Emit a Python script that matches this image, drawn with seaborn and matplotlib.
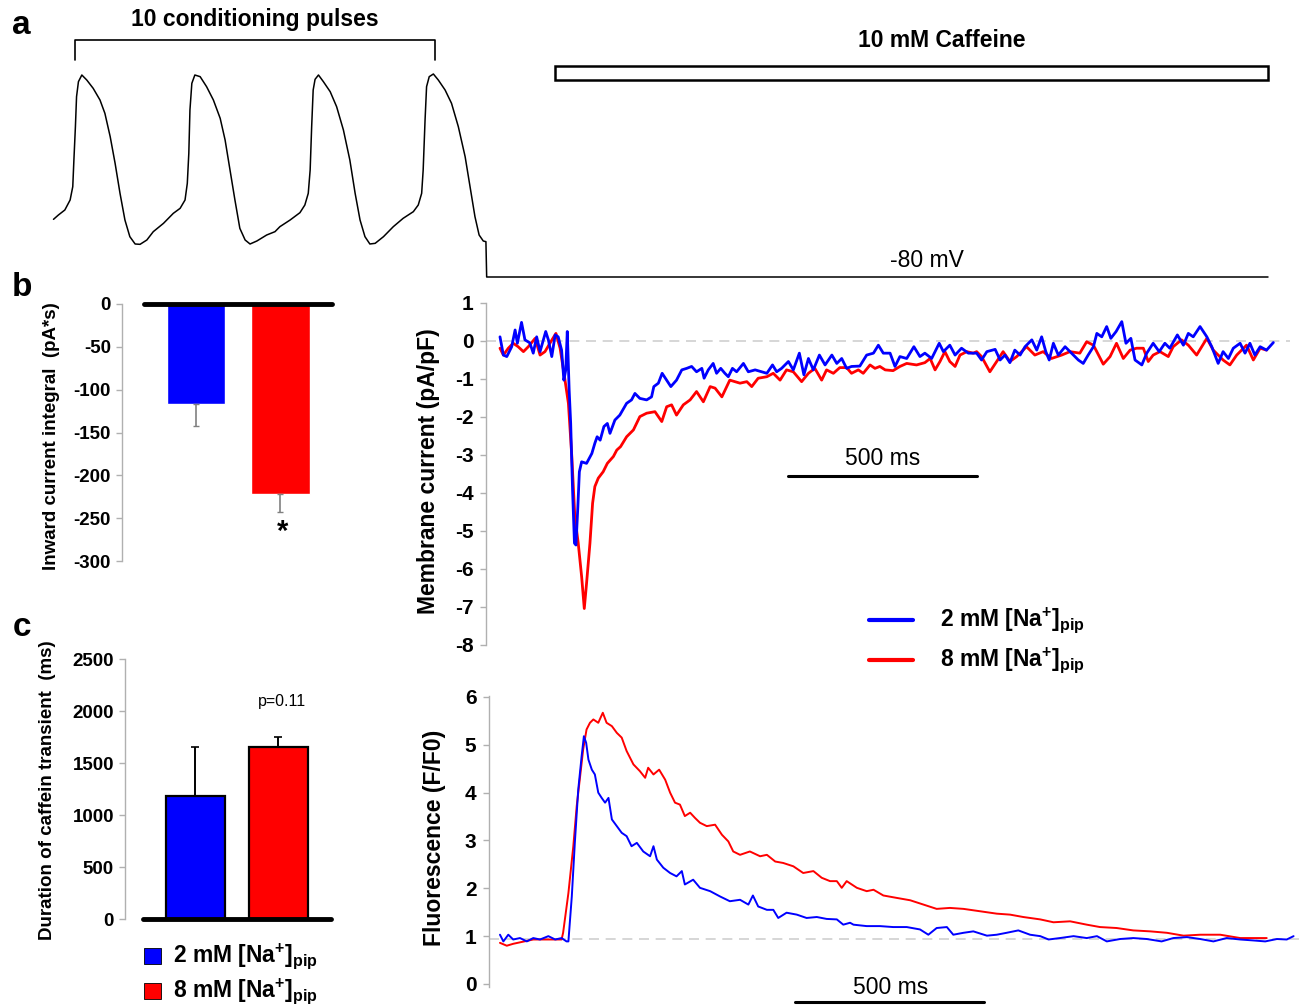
import numpy as np
import pandas as pd
import matplotlib
matplotlib.use('Agg')
import matplotlib.pyplot as plt
import seaborn as sns
from matplotlib.patches import Rectangle
from matplotlib.lines import Line2D

sns.set_theme(style='white')
plt.rcParams['font.family'] = ['Liberation Sans', 'DejaVu Sans']
plt.rcParams['mathtext.fontset'] = 'custom'
plt.rcParams['mathtext.rm'] = 'Liberation Sans:bold'
plt.rcParams['mathtext.bf'] = 'Liberation Sans:bold'
plt.rcParams['mathtext.it'] = 'Liberation Sans:bold'
for k in ['text.color', 'axes.labelcolor', 'xtick.color', 'ytick.color']:
    plt.rcParams[k] = 'black'

BLUE = '#0000FF'
RED = '#FF0000'

# ---------------- data ----------------
# panel a: conditioning action potentials then clamp to -80 mV (ms, mV)
ap_t = [-4, 9, 26, 40, 47, 50, 54, 57, 62, 71, 84, 101, 119, 132, 146, 159, 172, 185, 198, 212,
        225, 243, 260, 287, 313, 331, 344, 350, 354, 357, 362, 370, 384, 401, 419, 437, 450,
        463, 476, 489, 503, 516, 534, 560, 582, 595, 622, 648, 661, 670, 675, 679, 683, 688,
        697, 710, 728, 745, 763, 780, 794, 807, 820, 833, 847, 869, 895, 921, 948, 961, 970,
        974, 979, 983, 990, 1001, 1014, 1032, 1049, 1067, 1085, 1098, 1111, 1122, 1133, 1140,
        1142, 3209]
ap_v = [-45.4, -42.8, -39.8, -33.8, -25.8, -9.8, 10.2, 28.2, 37.2, 41.2, 38.2, 33.2, 26.2, 18.2,
        4.2, -11.8, -29.8, -45.8, -55.8, -60.2, -60.4, -57.8, -52.8, -47.8, -41.8, -38.8, -33.8,
        -23.8, -5.8, 20.2, 36.2, 41.2, 40.2, 34.2, 26.2, 15.2, 2.2, -15.8, -33.8, -50.8, -57.8,
        -60.2, -58.4, -54.8, -52.8, -49.8, -45.8, -41.4, -36.8, -29.8, -15.8, 10.2, 32.2, 38.6,
        41.2, 37.2, 31.2, 22.2, 8.2, -9.8, -29.8, -45.8, -55.8, -60.2, -59.8, -55.8, -49.8,
        -44.8, -40.8, -36.8, -29.8, -15.8, 14.2, 34.2, 40.2, 41.8, 38.2, 32.2, 24.2, 10.2, -7.8,
        -25.8, -43.8, -54.8, -58.4, -58.8, -80.0, -80.0]
pulse_bracket = (53, 1005)      # ms, first to last shown pulse
caffeine_on = (1323, 3209)      # ms

# panel b: inward current integral (pA*s)
groups = ['2 mM', '8 mM']
b_mean = [-117, -222]
b_sem = [25, 21]

# panel c: duration of caffeine transient (ms)
c_mean = [1180, 1650]
c_sem = [470, 100]

# membrane current (pA/pF), time in ms
im_blue_t = [0, 9, 18, 31, 40, 46, 57, 66, 79, 88, 97, 106, 121, 128, 137, 146, 154, 163, 169,
             174, 178, 183, 187, 192, 197, 201, 206, 210, 216, 229, 243, 251, 257, 265, 275,
             284, 291, 304, 317, 335, 348, 357, 370, 388, 401, 407, 419, 429, 441, 452, 467,
             481, 494, 507, 520, 534, 540, 551, 564, 573, 584, 595, 604, 615, 626, 644, 657,
             675, 692, 706, 721, 732, 745, 763, 776, 792, 804, 816, 829, 845, 860, 878, 891,
             904, 917, 930, 952, 970, 988, 1001, 1014, 1032, 1045, 1058, 1076, 1095, 1111,
             1124, 1142, 1162, 1173, 1190, 1204, 1221, 1239, 1261, 1274, 1288, 1310, 1323,
             1336, 1349, 1362, 1376, 1389, 1407, 1420, 1433, 1444, 1453, 1464, 1477, 1495,
             1512, 1530, 1543, 1556, 1570, 1579, 1592, 1605, 1616, 1630, 1645, 1656, 1669,
             1680, 1698, 1711, 1728, 1744, 1759, 1772, 1792, 1808, 1821, 1834, 1852, 1870,
             1883, 1900, 1913, 1927, 1940, 1958, 1971, 1984, 1997, 2011, 2028, 2046]
im_blue = [0.11, -0.37, -0.41, -0.15, 0.29, -0.06, 0.49, 0.03, -0.05, -0.32, 0.11, -0.28, 0.25,
           0.03, -0.41, 0.16, 0.11, -0.24, -1.03, -0.76, 0.25, -1.29, -2.16, -3.92, -5.32,
           -5.37, -4.36, -3.44, -3.18, -3.22, -2.96, -2.69, -2.52, -2.61, -2.25, -2.17, -2.43,
           -2.08, -1.95, -1.64, -1.55, -1.38, -1.51, -1.55, -1.47, -1.20, -1.11, -0.85, -1.03,
           -1.20, -1.03, -0.76, -0.72, -0.67, -0.81, -0.72, -0.98, -0.76, -0.59, -0.85, -0.72,
           -0.85, -0.94, -0.72, -0.81, -0.59, -0.81, -0.76, -0.81, -0.85, -0.63, -0.81, -0.72,
           -0.54, -0.76, -0.32, -0.89, -0.46, -0.76, -0.37, -0.63, -0.37, -0.59, -0.46, -0.72,
           -0.67, -0.66, -0.37, -0.32, -0.11, -0.32, -0.32, -0.67, -0.41, -0.46, -0.15, -0.41,
           -0.32, -0.46, -0.06, -0.28, -0.11, -0.37, -0.19, -0.32, -0.32, -0.50, -0.28, -0.22,
           -0.50, -0.37, -0.57, -0.24, -0.37, -0.15, 0.03, -0.24, 0.11, -0.28, -0.50, -0.06,
           -0.37, -0.15, -0.32, -0.50, -0.59, -0.37, -0.15, 0.20, 0.11, 0.38, 0.07, 0.25, 0.51,
           -0.06, 0.07, -0.50, -0.63, -0.32, -0.06, -0.28, -0.06, -0.19, 0.16, -0.11, 0.20,
           0.11, 0.38, 0.11, -0.15, -0.59, -0.28, -0.46, -0.19, -0.06, -0.32, -0.06, -0.37,
           -0.15, -0.24, -0.04]
im_red_t = [0, 9, 22, 35, 48, 62, 75, 93, 106, 119, 132, 148, 159, 172, 181, 190, 198, 207, 216,
            223, 229, 238, 245, 251, 260, 273, 284, 300, 309, 319, 335, 353, 370, 388, 410, 428,
            441, 454, 467, 485, 503, 520, 538, 556, 569, 587, 608, 635, 653, 666, 683, 706, 723,
            741, 758, 776, 798, 816, 833, 851, 864, 882, 899, 917, 930, 948, 961, 979, 992, 1005,
            1019, 1040, 1058, 1076, 1102, 1124, 1138, 1151, 1164, 1177, 1190, 1204, 1217, 1235,
            1252, 1261, 1274, 1296, 1314, 1331, 1349, 1367, 1393, 1415, 1437, 1459, 1486, 1508,
            1534, 1552, 1570, 1596, 1614, 1631, 1649, 1667, 1684, 1702, 1715, 1728, 1746, 1768,
            1781, 1803, 1821, 1843, 1870, 1887, 1913, 1931, 1949, 1975, 1993, 2011, 2028]
im_red = [-0.19, -0.37, -0.19, -0.06, -0.15, -0.28, -0.15, 0.07, -0.37, -0.28, -0.06, 0.20, -0.19,
          -1.03, -1.64, -3.04, -4.62, -5.32, -6.20, -7.04, -6.38, -5.32, -4.27, -3.83, -3.61,
          -3.44, -3.22, -3.04, -2.87, -2.78, -2.52, -2.34, -1.99, -1.90, -1.86, -2.12, -1.73,
          -1.68, -1.95, -1.68, -1.55, -1.33, -1.60, -1.20, -1.24, -1.47, -1.03, -1.11, -1.07,
          -1.20, -0.98, -0.94, -0.85, -1.03, -0.76, -0.81, -1.07, -0.85, -0.72, -1.03, -0.76,
          -0.85, -0.70, -0.70, -0.85, -0.76, -0.85, -0.63, -0.72, -0.67, -0.76, -0.78, -0.67,
          -0.59, -0.63, -0.57, -0.46, -0.76, -0.54, -0.28, -0.54, -0.67, -0.37, -0.28, -0.32,
          -0.28, -0.41, -0.81, -0.54, -0.28, -0.54, -0.41, -0.15, -0.37, -0.28, -0.46, -0.37,
          -0.28, -0.32, -0.02, -0.11, -0.61, -0.41, -0.06, -0.46, -0.24, -0.19, -0.19, -0.54,
          -0.37, -0.28, -0.41, -0.15, 0.03, -0.11, -0.37, 0.07, -0.24, -0.50, -0.63, -0.37,
          -0.11, -0.50, -0.19, -0.24]

# fluorescence (F/F0), time in ms
fl_blue_t = [0, 9, 22, 35, 53, 71, 88, 106, 128, 146, 163, 176, 181, 190, 198, 207, 216, 222, 228,
             234, 243, 251, 260, 269, 278, 287, 296, 309, 322, 335, 348, 362, 379, 397, 406, 415,
             432, 450, 467, 481, 489, 511, 529, 556, 582, 608, 635, 657, 669, 683, 706, 723, 736,
             758, 785, 811, 838, 864, 891, 908, 926, 935, 970, 1005, 1040, 1076, 1111, 1133, 1155,
             1182, 1199, 1226, 1252, 1288, 1314, 1340, 1371, 1402, 1429, 1451, 1481, 1517, 1552,
             1579, 1605, 1640, 1675, 1711, 1750, 1781, 1817, 1852, 1887, 1922, 1958, 1993, 2024,
             2055, 2081, 2099]
fl_blue = [1.03, 0.89, 1.03, 0.93, 0.96, 0.89, 0.96, 0.93, 1.00, 0.93, 0.96, 0.89, 0.89, 1.83,
           2.95, 4.06, 4.76, 5.18, 5.04, 4.69, 4.48, 4.38, 4.00, 3.89, 3.79, 3.89, 3.44, 3.30,
           3.16, 3.09, 2.88, 2.95, 2.77, 2.67, 2.88, 2.60, 2.43, 2.32, 2.25, 2.36, 2.08, 2.18,
           2.01, 1.94, 1.83, 1.73, 1.76, 1.66, 1.85, 1.62, 1.55, 1.55, 1.38, 1.49, 1.45, 1.38,
           1.40, 1.36, 1.35, 1.24, 1.28, 1.24, 1.21, 1.21, 1.19, 1.19, 1.14, 1.03, 1.17, 1.19,
           1.03, 1.07, 1.10, 1.01, 1.03, 1.07, 1.12, 1.03, 1.00, 0.93, 0.96, 1.00, 0.96, 1.00,
           0.89, 0.94, 0.96, 0.94, 0.89, 0.96, 0.98, 0.94, 0.89, 0.96, 0.93, 0.91, 0.89, 0.94,
           0.93, 1.00]
fl_red_t = [0, 18, 35, 88, 163, 167, 181, 194, 203, 212, 220, 229, 238, 247, 260, 272, 282, 296,
            309, 322, 335, 353, 370, 384, 392, 406, 421, 437, 450, 463, 476, 489, 503, 516, 529,
            547, 569, 587, 604, 617, 635, 661, 688, 706, 728, 749, 776, 802, 829, 851, 873, 891,
            904, 917, 944, 970, 988, 1014, 1049, 1085, 1120, 1155, 1190, 1226, 1270, 1314, 1349,
            1384, 1429, 1464, 1508, 1552, 1587, 1631, 1675, 1720, 1764, 1808, 1852, 1905, 1958,
            2002, 2028]
fl_red = [0.86, 0.80, 0.84, 0.93, 0.93, 1.07, 1.90, 2.88, 3.72, 4.34, 4.90, 5.32, 5.46, 5.53,
          5.46, 5.67, 5.46, 5.39, 5.25, 5.15, 4.87, 4.59, 4.45, 4.31, 4.52, 4.38, 4.48, 4.27,
          4.00, 3.79, 3.75, 3.51, 3.58, 3.47, 3.37, 3.30, 3.33, 3.12, 2.98, 2.77, 2.70, 2.77,
          2.67, 2.70, 2.56, 2.53, 2.46, 2.32, 2.36, 2.22, 2.15, 2.15, 2.01, 2.15, 2.01, 1.94,
          1.97, 1.85, 1.80, 1.75, 1.66, 1.57, 1.59, 1.57, 1.52, 1.47, 1.45, 1.40, 1.35, 1.29,
          1.31, 1.24, 1.19, 1.17, 1.12, 1.10, 1.07, 1.01, 1.03, 1.03, 0.96, 0.96, 0.96]
fl_baseline = 0.93

# ---------------- figure ----------------
W, H = 1304, 1008
fig = plt.figure(figsize=(W / 100, H / 100), dpi=100)
fig.patch.set_facecolor('white')


def px_axes(left, top, right, bottom):
    return fig.add_axes([left / W, 1 - bottom / H, (right - left) / W, (bottom - top) / H])


def style_left_axis(ax, ticks, labels, size, pad):
    for s in ['top', 'right', 'bottom']:
        ax.spines[s].set_visible(False)
    ax.spines['left'].set_color('#b0b0b0')
    ax.spines['left'].set_linewidth(1.0)
    ax.set_yticks(ticks)
    ax.set_yticklabels(labels, fontsize=size, fontweight='bold', color='black')
    ax.tick_params(axis='y', left=True, length=4, width=1, color='#b0b0b0', pad=pad)
    ax.set_xticks([])
    ax.set_xlabel('')
    ax.set_ylabel('')
    ax.set_facecolor('none')


# ---- panel a ----
ax_a = px_axes(55, 60, 1268, 285)
ax_a.set_xlim(0, 3209)
ax_a.set_ylim(-84.8, 50.2)
ax_a.axis('off')
ap = pd.DataFrame({'t': ap_t, 'v': ap_v})
sns.lineplot(data=ap, x='t', y='v', color='black', lw=1.1, ax=ax_a,
             estimator=None, sort=False)
for ln in ax_a.lines:
    ln.set_clip_on(False)
b0, b1 = pulse_bracket
ax_a.plot([b0, b0, b1, b1], [50.2, 62.2, 62.2, 50.2], color='black', lw=1.2, clip_on=False)
ax_a.text((b0 + b1) / 2, 74.5, '10 conditioning pulses', ha='center', va='center',
          fontsize=16.5, fontweight='bold')
ax_a.add_patch(Rectangle((caffeine_on[0], 38.2), caffeine_on[1] - caffeine_on[0], 8.4,
                         fill=False, ec='black', lw=1.8, clip_on=False))
ax_a.text(2347, 62, '10 mM Caffeine', ha='center', va='center', fontsize=16.5, fontweight='bold')
ax_a.text(2307, -69.8, '-80 mV', ha='center', va='center', fontsize=16.5)

# ---- panel b ----
ax_b = px_axes(122, 304, 332, 561)
dfb = pd.DataFrame({'g': groups, 'v': b_mean})
sns.barplot(data=dfb, x='g', y='v', hue='g', palette=[BLUE, RED], saturation=1,
            width=0.69, errorbar=None, legend=False, ax=ax_b)
ax_b.errorbar([0, 1], b_mean, yerr=[b_sem, [0, 0]], fmt='none', ecolor='#808080',
              elinewidth=1.2, capsize=2, capthick=1)
ax_b.set_xlim(-0.876, 1.61)
ax_b.set_ylim(-300, 0)
ax_b.axhline(0, xmin=0.105, xmax=1.0, color='black', lw=3.5, clip_on=False, zorder=5)
style_left_axis(ax_b, [0, -50, -100, -150, -200, -250, -300],
                ['0', '-50', '-100', '-150', '-200', '-250', '-300'], 13.5, 4)
ax_b.text(1.03, -266, '*', ha='center', va='center', fontsize=21, fontweight='bold')
fig.text(52 / W, 1 - 436 / H, 'Inward current integral  (pA*s)', rotation=90,
         ha='center', va='center', fontsize=13.5, fontweight='bold')

# ---- panel c ----
ax_c = px_axes(125, 659, 331, 919)
dfc = pd.DataFrame({'g': groups, 'v': c_mean})
sns.barplot(data=dfc, x='g', y='v', hue='g', palette=[BLUE, RED], saturation=1,
            width=0.71, errorbar=None, legend=False, ax=ax_c, edgecolor='black', linewidth=1.6)
ax_c.errorbar([0, 1], c_mean, yerr=[[0, 0], c_sem], fmt='none', ecolor='black',
              elinewidth=1.4, capsize=3, capthick=1.2)
ax_c.set_xlim(-0.849, 1.633)
ax_c.set_ylim(0, 2500)
ax_c.axhline(0, xmin=0.087, xmax=1.0, color='black', lw=3.5, clip_on=False, zorder=5)
style_left_axis(ax_c, [0, 500, 1000, 1500, 2000, 2500],
                ['0', '500', '1000', '1500', '2000', '2500'], 13.5, 4)
ax_c.text(1.04, 2096, 'p=0.11', ha='center', va='center', fontsize=11.5)
fig.text(48 / W, 1 - 790 / H, 'Duration of caffein transient  (ms)', rotation=90,
         ha='center', va='center', fontsize=13.5, fontweight='bold')

leg_labels = [r'2 mM [Na$^{+}$]$_{\mathrm{pip}}$', r'8 mM [Na$^{+}$]$_{\mathrm{pip}}$']
for col, lab, yc in [(BLUE, leg_labels[0], 956), (RED, leg_labels[1], 991)]:
    fig.add_artist(Rectangle((144 / W, 1 - (yc + 8) / H), 17 / W, 16 / H, fc=col,
                             ec='black', lw=0.6, transform=fig.transFigure))
    fig.text(173 / W, 1 - yc / H, lab, ha='left', va='center', fontsize=16.5, fontweight='bold')

# ---- membrane current ----
ax_m = px_axes(486, 303, 1290, 645)
ax_m.set_xlim(-37, 2090)
ax_m.set_ylim(-8, 1)
ax_m.axhline(0, color='#d0d0d0', lw=1.2, ls=(0, (6, 4)), zorder=0)
sns.lineplot(x=im_red_t, y=im_red, color=RED, lw=2.0, ax=ax_m, estimator=None, sort=False)
sns.lineplot(x=im_blue_t, y=im_blue, color=BLUE, lw=2.0, ax=ax_m, estimator=None, sort=False)
style_left_axis(ax_m, list(range(-8, 2)), [str(v) for v in range(-8, 2)], 15, 5)
ax_m.plot([762, 1262], [-3.55, -3.55], color='black', lw=2.2, clip_on=False)
ax_m.text(1012, -3.1, '500 ms', ha='center', va='center', fontsize=16.5)
fig.text(429 / W, 1 - 471 / H, 'Membrane current (pA/pF)', rotation=90,
         ha='center', va='center', fontsize=16.5, fontweight='bold')

for col, lab, yc in [(BLUE, leg_labels[0], 620), (RED, leg_labels[1], 660)]:
    fig.add_artist(Line2D([869 / W, 913 / W], [1 - yc / H, 1 - yc / H], color=col, lw=3,
                          transform=fig.transFigure))
    fig.text(940 / W, 1 - yc / H, lab, ha='left', va='center', fontsize=16.5, fontweight='bold')

# ---- fluorescence ----
ax_f = px_axes(489, 696, 1300, 987)
ax_f.set_xlim(-29, 2116)
ax_f.set_ylim(-0.063, 6.02)
ax_f.axhline(fl_baseline, color='#d0d0d0', lw=1.2, ls=(0, (6, 4)), zorder=0)
sns.lineplot(x=fl_red_t, y=fl_red, color=RED, lw=1.4, ax=ax_f, estimator=None, sort=False)
sns.lineplot(x=fl_blue_t, y=fl_blue, color=BLUE, lw=1.4, ax=ax_f, estimator=None, sort=False)
style_left_axis(ax_f, [0, 1, 2, 3, 4, 5, 6], ['0', '1', '2', '3', '4', '5', '6'], 15, 5)
ax_f.plot([781, 1281], [-0.37, -0.37], color='black', lw=2.2, clip_on=False)
ax_f.text(1032, -0.08, '500 ms', ha='center', va='center', fontsize=16.5)
fig.text(434 / W, 1 - 838 / H, 'Fluorescence (F/F0)', rotation=90,
         ha='center', va='center', fontsize=16.5, fontweight='bold')

# panel letters
fig.text(21 / W, 1 - 25 / H, 'a', ha='center', va='center', fontsize=24, fontweight='bold')
fig.text(22 / W, 1 - 288 / H, 'b', ha='center', va='center', fontsize=24, fontweight='bold')
fig.text(22 / W, 1 - 627 / H, 'c', ha='center', va='center', fontsize=24, fontweight='bold')

fig.savefig('out.png', dpi=100, facecolor='white')
